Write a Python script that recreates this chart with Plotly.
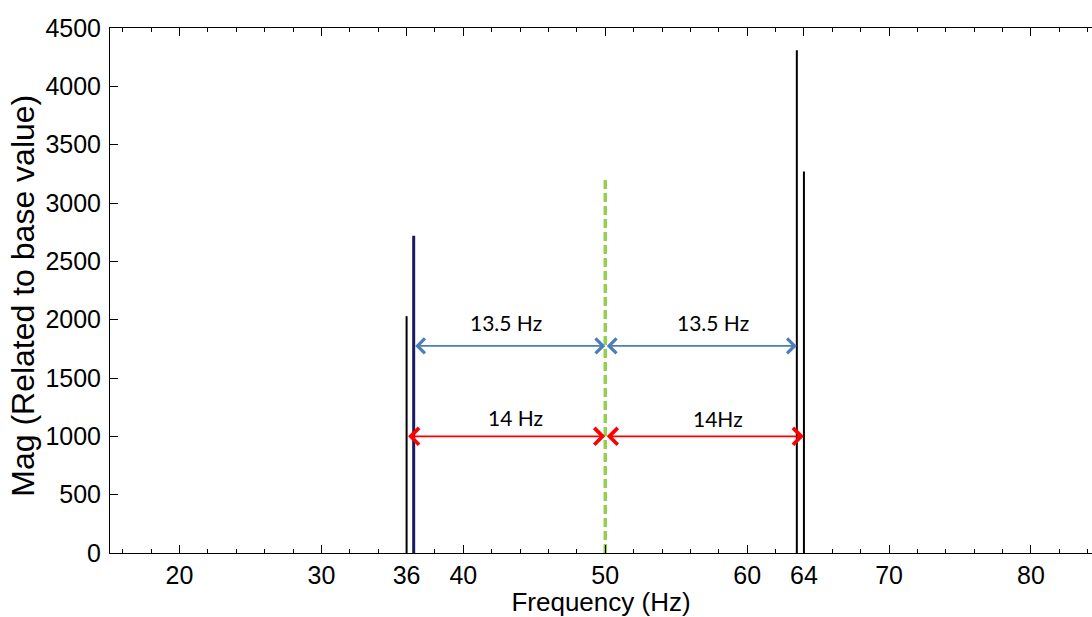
import plotly.graph_objects as go

# ---- data ----
peak_freqs = [36.0, 36.5, 63.5, 64.0]
peak_mags = [2030, 2720, 4310, 3270]
peak_colors = ["#000000", "#1b1b5e", "#000000", "#000000"]
peak_widths = [2, 3, 2, 2]

center_freq = 50
center_top = 3200

blue_level = 1775
blue_pairs = [(36.5, 50), (50, 63.5)]
red_level = 1000
red_pairs = [(36, 50), (50, 64)]

labels = ["13.5 Hz", "13.5 Hz", "14 Hz", "14Hz"]
label_x = [43.0, 57.6, 43.7, 57.95]
label_y = [1975, 1975, 1160, 1150]

x_ticks = [20, 30, 36, 40, 50, 60, 64, 70, 80]
y_ticks = list(range(0, 4501, 500))

fig = go.Figure()

for f, m, c, w in zip(peak_freqs, peak_mags, peak_colors, peak_widths):
    fig.add_trace(go.Scatter(x=[f, f], y=[0, m], mode="lines",
                             line=dict(color=c, width=w), showlegend=False,
                             hoverinfo="skip"))

fig.add_trace(go.Scatter(x=[center_freq, center_freq], y=[0, center_top], mode="lines",
                         line=dict(color="#92D050", width=3.5, dash="9px,4px"),
                         showlegend=False, hoverinfo="skip"))

annotations = []
def arrow(x0, x1, y, color, width):
    annotations.append(dict(x=x1, y=y, ax=x0, ay=y, xref="x", yref="y",
                            axref="x", ayref="y", text="", showarrow=True,
                            arrowside="end+start", arrowhead=4, startarrowhead=4,
                            arrowsize=1.8, startarrowsize=1.8, arrowwidth=width,
                            arrowcolor=color, standoff=0, startstandoff=0))

for a, b in blue_pairs:
    arrow(a, b, blue_level, "#4A7EBB", 1.6)
for a, b in red_pairs:
    arrow(a, b, red_level, "#FF0000", 1.8)

for t, x, y in zip(labels, label_x, label_y):
    annotations.append(dict(x=x, y=y, xref="x", yref="y", text=t, showarrow=False,
                            font=dict(family="Lato", size=21, color="black")))

# y-axis title as rotated text
annotations.append(dict(x=0, y=0.49, xref="paper", yref="paper", xshift=-87,
                        text="Mag (Related to base value)", showarrow=False,
                        textangle=-90, xanchor="center", yanchor="middle",
                        font=dict(family="Liberation Sans", size=32, color="black")))

fig.update_layout(
    width=1092, height=617,
    margin=dict(l=110, r=0, t=28, b=64),
    paper_bgcolor="white", plot_bgcolor="white",
    font=dict(family="Liberation Sans", color="black"),
    annotations=annotations,
    xaxis=dict(range=[15.1, 84.3], tickmode="array", tickvals=x_ticks,
               ticks="inside", ticklen=8, tickwidth=1, tickcolor="black",
               showline=True, linecolor="black", linewidth=1, mirror="ticks",
               showgrid=False, zeroline=False,
               tickfont=dict(size=25, family="Liberation Sans"),
               minor=dict(tickmode="linear", tick0=0, dtick=2, ticks="inside",
                          ticklen=4, tickcolor="black", showgrid=False),
               title=dict(text="Frequency (Hz)", font=dict(size=26), standoff=2)),
    yaxis=dict(range=[0, 4500], tickmode="array", tickvals=y_ticks,
               ticks="inside", ticklen=8, tickwidth=1, tickcolor="black",
               showline=True, linecolor="black", linewidth=1,
               showgrid=False, zeroline=False,
               tickfont=dict(size=25, family="Liberation Sans"),
               ticklabelstandoff=3),
)

fig.write_html("out.html")
